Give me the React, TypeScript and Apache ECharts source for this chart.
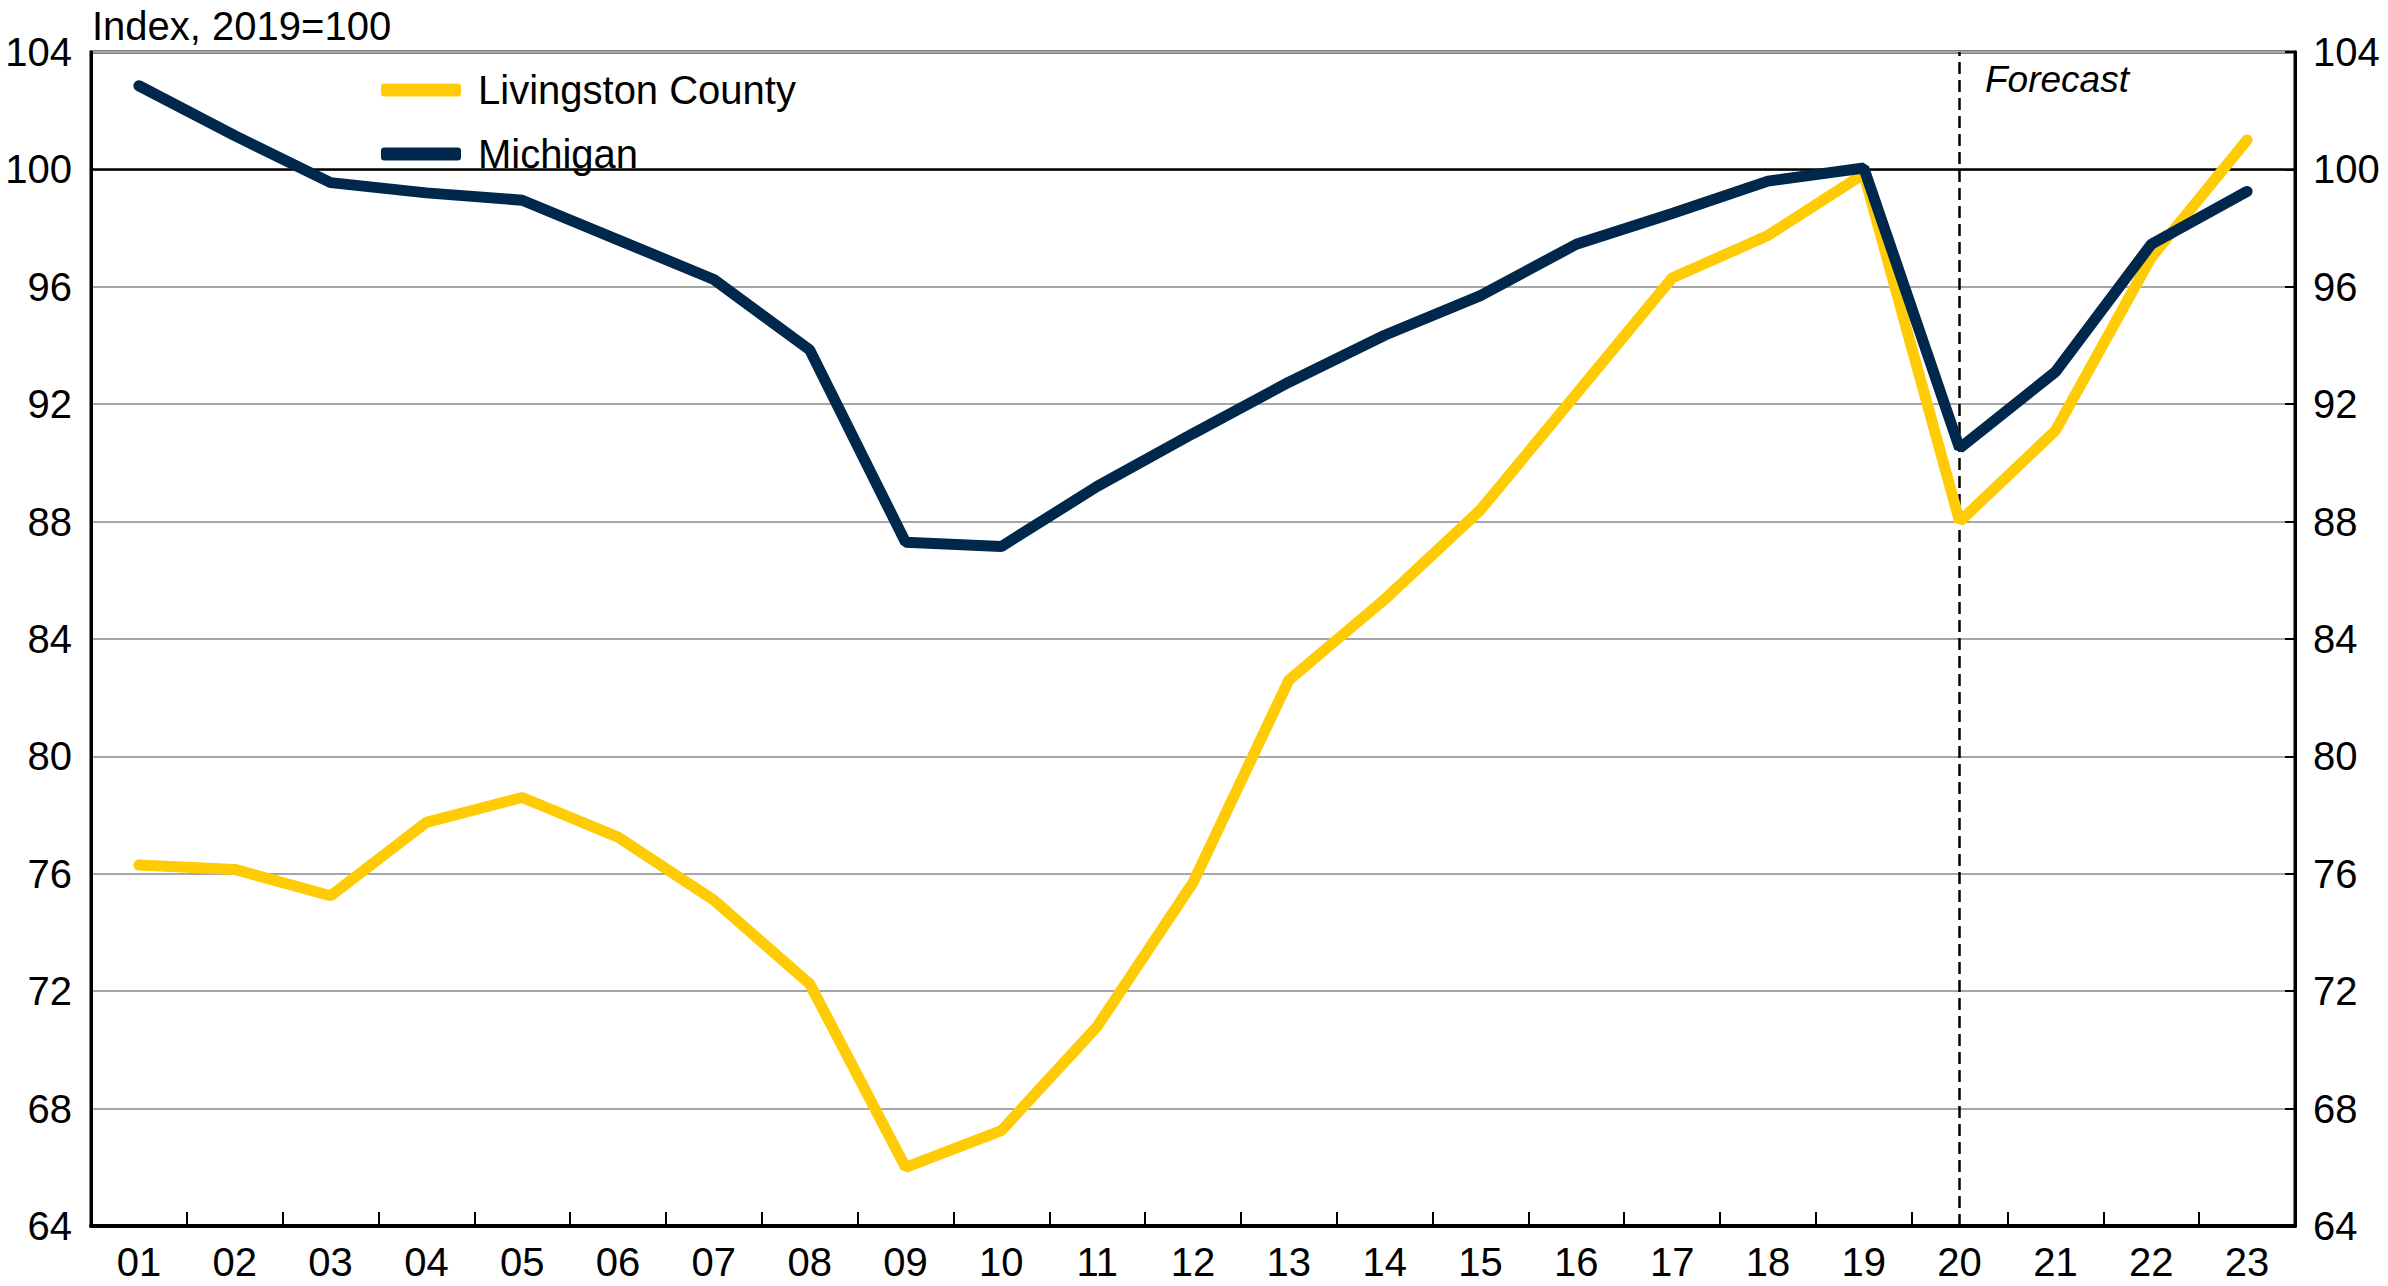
import React, { useEffect, useRef } from "react";
import * as echarts from "echarts";

const categories = ["01","02","03","04","05","06","07","08","09","10","11","12","13","14","15","16","17","18","19","20","21","22","23"];
const livingston = [76.3, 76.15, 75.25, 77.75, 78.6, 77.25, 75.1, 72.25, 66.0, 67.25, 70.8, 75.7, 82.6, 85.35, 88.4, 92.35, 96.3, 97.75, 99.85, 88.0, 91.1, 97.0, 101.0];
const michigan = [102.85, 101.15, 99.55, 99.2, 98.95, 97.6, 96.25, 93.85, 87.3, 87.15, 89.2, 91.0, 92.75, 94.35, 95.7, 97.45, 98.5, 99.6, 100.05, 90.5, 93.1, 97.45, 99.25];
const yMin = 64;
const yMax = 104;
const yStep = 4;
const forecastStart = "20";
const baseLine = 100;

const FONT = '"Liberation Sans", Arial, sans-serif';
const MAIZE = "#FFCB05";
const NAVY = "#00274C";

export default function App() {
  const ref = useRef<HTMLDivElement>(null);
  useEffect(() => {
    document.body.style.margin = "0";
    const chart = echarts.init(ref.current!, null, { renderer: "svg" });
    const yAxisBase = {
      type: "value",
      min: yMin,
      max: yMax,
      interval: yStep,
      axisLine: { show: true, lineStyle: { color: "#000", width: 3 } },
      axisLabel: { fontSize: 40, color: "#000", fontFamily: FONT },
    };
    chart.setOption({
      animation: false,
      backgroundColor: "#fff",
      textStyle: { fontFamily: FONT },
      title: {
        text: "Index, 2019=100",
        left: 92,
        top: 4,
        padding: 0,
        textStyle: { fontSize: 40, fontWeight: "normal", color: "#000", fontFamily: FONT, lineHeight: 44 },
      },
      legend: {
        data: ["Livingston County", "Michigan"],
        orient: "vertical",
        left: 381,
        top: 68,
        padding: 0,
        itemWidth: 80,
        itemHeight: 13,
        itemGap: 20,
        icon: "roundRect",
        selectedMode: false,
        textStyle: { fontSize: 40, color: "#000", fontFamily: FONT, padding: [0, 0, 0, 12], lineHeight: 44 },
      },
      grid: {
        left: 91,
        right: 93,
        top: 52,
        bottom: 60,
        show: true,
        borderColor: "#000",
        borderWidth: 3,
        containLabel: false,
      },
      graphic: [
        {
          type: "text",
          left: 1985,
          top: 61,
          style: { text: "Forecast", fontSize: 37, fontStyle: "italic", fill: "#000", fontFamily: FONT },
        },
      ],
      xAxis: {
        type: "category",
        data: categories,
        boundaryGap: true,
        axisLine: { show: true, lineStyle: { color: "#000", width: 4 } },
        axisTick: { show: true, inside: true, length: 14, interval: 0, lineStyle: { color: "#000", width: 2 } },
        axisLabel: { fontSize: 40, color: "#000", margin: 16, interval: 0, fontFamily: FONT },
        splitLine: { show: false },
      },
      yAxis: [
        {
          ...yAxisBase,
          position: "left",
          axisTick: { show: false },
          axisLabel: { ...yAxisBase.axisLabel, margin: 19 },
          splitLine: { show: true, lineStyle: { color: "#A6A6A6", width: 2 } },
        },
        {
          ...yAxisBase,
          position: "right",
          axisTick: { show: true, inside: true, length: 10, lineStyle: { color: "#000", width: 2 } },
          axisLabel: { ...yAxisBase.axisLabel, margin: 18 },
          splitLine: { show: false },
        },
      ],
      series: [
        {
          name: "Livingston County",
          type: "line",
          data: livingston,
          symbol: "none",
          color: MAIZE,
          lineStyle: { color: MAIZE, width: 11, cap: "round" },
          z: 3,
          markLine: {
            silent: true,
            symbol: ["none", "none"],
            z: 1,
            label: { show: false },
            data: [
              { yAxis: baseLine, lineStyle: { color: "#000", width: 2.5, type: "solid" } },
              { xAxis: forecastStart, lineStyle: { color: "#000", width: 2.5, type: [12, 6] } },
            ],
          },
        },
        {
          name: "Michigan",
          type: "line",
          data: michigan,
          symbol: "none",
          color: NAVY,
          lineStyle: { color: NAVY, width: 11, cap: "round" },
          z: 4,
        },
      ],
    });
    return () => chart.dispose();
  }, []);
  return <div ref={ref} style={{ width: 2388, height: 1286 }} />;
}
